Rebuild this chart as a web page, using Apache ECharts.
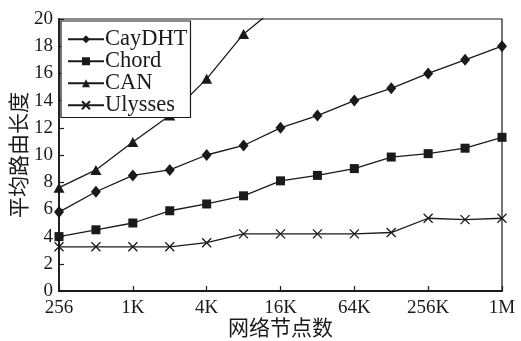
<!DOCTYPE html>
<html><head><meta charset="utf-8">
<script src="https://cdn.jsdelivr.net/npm/echarts@6/dist/echarts.min.js"></script>
<style>html,body{margin:0;padding:0;background:#fff}#c{width:521px;height:341px}</style>
</head><body><div id="c"></div>
<script>
const categories = ['256','512','1K','2K','4K','8K','16K','32K','64K','128K','256K','512K','1M'];
const seriesNames = ['CayDHT','Chord','CAN','Ulysses'];
const cayDHT = [5.8,7.3,8.5,8.9,10.0,10.7,12.0,12.9,14.0,14.9,16.0,17.0,18.0];
const chord = [4.0,4.5,5.0,5.9,6.4,7.0,8.1,8.5,9.0,9.85,10.1,10.5,11.3];
const can = [7.6,8.9,10.95,12.9,15.6,18.9,21.1,null,null,null,null,null,null];
const ulysses = [3.25,3.25,3.25,3.25,3.55,4.2,4.2,4.2,4.2,4.3,5.35,5.25,5.35];
const yTicks = [0,2,4,6,8,10,12,14,16,18,20];
const xTitle = '网络节点数';
const yTitle = '平均路由长度';

const serif = "'Liberation Serif','DejaVu Serif','Noto Sans CJK SC',serif";
const cjk = "'Noto Sans CJK SC','Liberation Serif',serif";
const ink = '#1a1a1a';
const xPath = 'path://M0,0L10,10M10,0L0,10';
const symbols = ['diamond','rect','triangle',xPath];
const sizes = [[10,12],9,[11,10],9];
const datas = [cayDHT, chord, can, ulysses];

const chart = echarts.init(document.getElementById('c'), null, {renderer:'canvas'});
chart.setOption({
  animation:false,
  backgroundColor:'#fff',
  grid:{left:59,right:19,top:19,bottom:50,show:true,borderColor:ink,borderWidth:1.2,backgroundColor:'transparent',containLabel:false,outerBoundsMode:'none'},
  legend:{
    orient:'vertical',left:61,top:21,
    data:seriesNames,
    itemWidth:36,itemHeight:10,itemGap:-0.5,
    padding:[7,3,1,6],
    borderColor:ink,borderWidth:1.2,backgroundColor:'#fff',
    textStyle:{fontFamily:serif,fontSize:22.5,color:ink,lineHeight:21,padding:[0,0,0,-4]}
  },
  xAxis:{
    type:'category',data:categories,boundaryGap:false,
    name:xTitle,nameLocation:'middle',nameGap:26,nameMoveOverlap:false,
    nameTextStyle:{fontFamily:cjk,fontSize:21,color:ink},
    axisLine:{lineStyle:{color:ink,width:1.8}},
    axisTick:{inside:true,length:5,interval:1,lineStyle:{color:ink,width:1.2}},
    axisLabel:{interval:1,fontFamily:serif,fontSize:19,color:ink,margin:8},
    splitLine:{show:false}
  },
  yAxis:{
    type:'value',min:yTicks[0],max:yTicks[yTicks.length-1],interval:2,
    name:yTitle,nameLocation:'middle',nameGap:30,nameRotate:90,nameMoveOverlap:false,
    nameTextStyle:{fontFamily:cjk,fontSize:21,color:ink},
    axisLine:{show:true,lineStyle:{color:ink,width:1.8}},
    axisTick:{show:true,inside:true,length:5,lineStyle:{color:ink,width:1.2}},
    axisLabel:{fontFamily:serif,fontSize:19,color:ink,margin:6},
    splitLine:{show:false}
  },
  series: seriesNames.map((n,i)=>({
    name:n,type:'line',data:datas[i],
    symbol:symbols[i],symbolSize:sizes[i],showSymbol:true,clip:true,
    lineStyle:{color:ink,width:1.3},
    itemStyle:{color:ink,borderColor:ink,borderWidth:i===3?1.3:0},
    emphasis:{disabled:true}
  }))
});
</script></body></html>
